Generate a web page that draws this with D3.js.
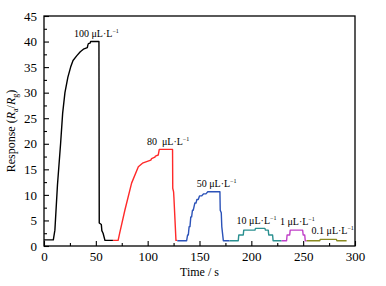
<!DOCTYPE html>
<html>
<head>
<meta charset="utf-8">
<script src="https://d3js.org/d3.v7.min.js"></script>
<style>
  body { margin: 0; background: #fff; }
  text { font-family: "Liberation Serif", "DejaVu Serif", serif; }
</style>
</head>
<body>
<svg id="vis"></svg>
<script>
// response curves, one array of [time, response] per concentration
let run100 = [[0,1.2],[9,1.2],[10.5,3.1],[13,12],[16,20],[18,26],[20.2,30],[23,33],[25.7,35],[28,36.3],
  [31.5,37.2],[35,38],[38,38.5],[41.8,38.8],[42.3,39.3],[42.8,39.6],[44.5,39.7],[45,40],[53,40],
  [53.3,4.5],[55.3,4.2],[55.8,3],[57,2.5],[58.8,1.1],[66.5,1.1]];
let run80 = [[66.5,1.1],[71.5,1.1],[73,2.5],[78,7],[84.5,12.3],[91,15.5],[95,16.2],[99,16.5],[103,16.8],
  [103.8,17.1],[107,17.4],[107.5,17.6],[110.2,17.8],[111.2,18.9],[124,18.9],[124.2,11.3],[125,10.6],
  [125.3,9.6],[127.3,1.1],[128.6,1.1]];
let run50 = [[128.6,1.04],[137.6,1.04],[138.5,2.15],[139.2,2.15],[140,3.8],[140.8,3.8],[141.6,5.7],
  [142.4,5.7],[143.2,7],[144,7],[145.5,8.4],[146.6,8.4],[147.5,9.1],[148.8,9.1],[150,9.8],[152,9.8],
  [154,10.2],[156.2,10.2],[158,10.6],[169.7,10.6],[170,7],[171,6.5],[171.5,3.8],[173,1.04],[179,1.04]];
let run10 = [[179,1.04],[187.4,1.04],[187.9,2.15],[192.2,2.15],[192.7,3.1],[203.5,3.1],[204,3.45],
  [213.1,3.45],[213.6,3.1],[216.3,3.1],[216.8,2.15],[220.5,2.15],[221,1.04],[229.2,1.04]];
let run1 = [[229.2,1.04],[234,1.04],[234.5,2.15],[237,2.15],[237.5,3.1],[249.5,3.1],[250,2.15],
  [251.5,2.15],[252,1.04],[253.3,1.04]];
let run01 = [[253.3,1.04],[266,1.04],[266.5,1.3],[282,1.3],[282.5,1.04],[291.9,1.04]];

let runs = [run100, run80, run50, run10, run1, run01];
let runColors = ["#000000", "#ff2a2a", "#2b52b8", "#2a9090", "#c040c8", "#8a8a20"];
let runLabels = ["100 ", "80  ", "50 ", "10 ", "1 ", "0.1 "];
// label anchor points (time, response) for each annotation
let labelAt = [[28.9, 40.9], [99.3, 19.8], [147.3, 11.5], [185.8, 4.3], [227.6, 4.1], [258.1, 2.35]];

let xTicks = [0, 50, 100, 150, 200, 250, 300];
let yTicks = [0, 5, 10, 15, 20, 25, 30, 35, 40, 45];

let width = 386, height = 286;
let margin = {left: 44, right: 31, top: 16, bottom: 40};

let svg = d3.select("#vis").attr("width", width).attr("height", height);

let x = d3.scaleLinear().domain([0, 300]).range([margin.left, width - margin.right]);
let y = d3.scaleLinear().domain([0, 45]).range([height - margin.bottom, margin.top]);

// frame
svg.append("rect")
    .attr("x", x(0)).attr("y", y(45))
    .attr("width", x(300) - x(0)).attr("height", y(0) - y(45))
    .attr("fill", "none").attr("stroke", "black").attr("stroke-width", 1.3);

// minor ticks
let xAxisMinor = d3.axisBottom(x).tickValues(d3.range(25, 300, 50)).tickSize(-3).tickFormat("");
let yAxisMinor = d3.axisLeft(y).tickValues(d3.range(2.5, 45, 5)).tickSize(-3).tickFormat("");
svg.append("g").attr("transform", `translate(0,${y(0)})`).call(xAxisMinor);
svg.append("g").attr("transform", `translate(${x(0)},0)`).call(yAxisMinor);

let xAxis = d3.axisBottom(x).tickValues(xTicks).tickSize(-5).tickPadding(6).tickFormat(d3.format("d"));
let yAxis = d3.axisLeft(y).tickValues(yTicks).tickSize(-5).tickPadding(7).tickFormat(d3.format("d"));
svg.append("g").attr("transform", `translate(0,${y(0)})`).call(xAxis);
svg.append("g").attr("transform", `translate(${x(0)},0)`).call(yAxis);

svg.selectAll(".domain").remove();
svg.selectAll(".tick line").attr("stroke", "black").attr("stroke-width", 1.1);
svg.selectAll(".tick text").attr("font-size", 13).attr("fill", "black")
    .style("font-family", "'Liberation Serif', serif");

// axis titles
svg.append("text")
    .attr("x", (x(0) + x(300)) / 2).attr("y", 276)
    .attr("text-anchor", "middle").attr("font-size", 12)
    .text("Time / s");

let yt = svg.append("text")
    .attr("transform", `translate(15,${(y(0) + y(45)) / 2}) rotate(-90)`)
    .attr("text-anchor", "middle").attr("font-size", 12);
yt.append("tspan").text("Response (");
yt.append("tspan").attr("font-style", "italic").text("R");
yt.append("tspan").attr("font-size", 8).attr("dy", 3).text("a");
yt.append("tspan").attr("dy", -3).text("/");
yt.append("tspan").attr("font-style", "italic").text("R");
yt.append("tspan").attr("font-size", 8).attr("dy", 3).text("g");
yt.append("tspan").attr("dy", -3).text(")");

// curves
let line = d3.line().x(d => x(d[0])).y(d => y(d[1]));
svg.selectAll(".run")
    .data(runs)
    .join("path")
    .attr("class", "run")
    .attr("d", line)
    .attr("fill", "none")
    .attr("stroke", (d, i) => runColors[i])
    .attr("stroke-width", 1.4)
    .attr("stroke-linejoin", "round");

// concentration labels
labelAt.forEach((p, i) => {
    let t = svg.append("text")
        .attr("x", x(p[0])).attr("y", y(p[1]))
        .attr("font-size", 10).attr("fill", "black")
        .attr("xml:space", "preserve");
    t.append("tspan").text(runLabels[i] + "\u03bcL\u00b7L");
    t.append("tspan").attr("font-size", 6).attr("dy", -4).text("\u22121");
});
</script>
</body>
</html>
